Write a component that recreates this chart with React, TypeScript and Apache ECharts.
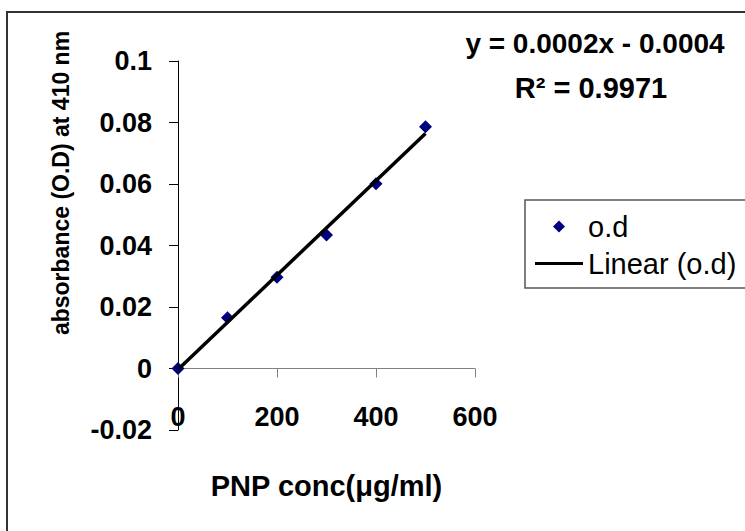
import React, { useEffect, useRef } from "react";
import * as echarts from "echarts";

const concentrations = [0, 100, 200, 300, 400, 500];
const absorbance = [0, 0.0165, 0.0297, 0.0434, 0.0601, 0.0786];
const xTicks = [0, 200, 400, 600];
const yTicks = [-0.02, 0, 0.02, 0.04, 0.06, 0.08, 0.1];
const seriesName = "o.d";
const trendName = "Linear (o.d)";
const equationLines = ["y = 0.0002x - 0.0004", "R\u00b2 = 0.9971"];
const xTitle = "PNP conc(\u03bcg/ml)";
const yTitle = "absorbance (O.D) at 410 nm";

const FONT = "'Liberation Sans', Arial, sans-serif";

const DIAMOND_ICON =
  "path://M0,6L0.01,6L0,6.01Z M48,6L47.99,6L48,6.01Z M24,0L30,6L24,12L18,6Z";
const LINE_ICON =
  "path://M0,0L0.01,0L0,0.01Z M48,12L47.99,12L48,11.99Z M0,4.4L48,4.4L48,7.6L0,7.6Z";

function linearFit(xs: number[], ys: number[]) {
  const n = xs.length;
  const mx = xs.reduce((a, b) => a + b, 0) / n;
  const my = ys.reduce((a, b) => a + b, 0) / n;
  let sxy = 0;
  let sxx = 0;
  for (let i = 0; i < n; i++) {
    sxy += (xs[i] - mx) * (ys[i] - my);
    sxx += (xs[i] - mx) * (xs[i] - mx);
  }
  const m = sxy / sxx;
  return { m, b: my - m * mx };
}

export default function App() {
  const ref = useRef<HTMLDivElement>(null);
  useEffect(() => {
    if (!ref.current) return;
    const chart = echarts.init(ref.current, undefined, { renderer: "svg" });
    const fit = linearFit(concentrations, absorbance);
    const x0 = Math.min(...concentrations);
    const x1 = Math.max(...concentrations);
    const trend = [
      [x0, fit.m * x0 + fit.b],
      [x1, fit.m * x1 + fit.b],
    ];
    chart.setOption({
      animation: false,
      backgroundColor: "#ffffff",
      grid: {
        left: 178,
        top: 61,
        right: 270,
        bottom: 101,
        containLabel: false,
        outerBoundsMode: "none",
      },
      xAxis: {
        type: "value",
        min: xTicks[0],
        max: xTicks[xTicks.length - 1],
        interval: xTicks[1] - xTicks[0],
        splitLine: { show: false },
        axisLine: { onZero: true, lineStyle: { color: "#808080", width: 1 } },
        axisTick: { show: true, inside: false, length: 9, lineStyle: { color: "#808080" } },
        axisLabel: {
          margin: -27,
          color: "#000",
          fontFamily: FONT,
          fontWeight: "bold",
          fontSize: 27,
        },
        name: xTitle,
        nameLocation: "middle",
        nameGap: 41,
        nameMoveOverlap: false,
        nameTextStyle: {
          color: "#000",
          fontFamily: FONT,
          fontWeight: "bold",
          fontSize: 29,
        },
      },
      yAxis: {
        type: "value",
        min: yTicks[0],
        max: yTicks[yTicks.length - 1],
        interval: yTicks[1] - yTicks[0],
        splitLine: { show: false },
        axisLine: { show: true, onZero: false, lineStyle: { color: "#000", width: 1 } },
        axisTick: { show: true, inside: false, length: 9, lineStyle: { color: "#000" } },
        axisLabel: {
          margin: 26,
          color: "#000",
          fontFamily: FONT,
          fontWeight: "bold",
          fontSize: 27,
          formatter: (v: number) => String(Number(v.toFixed(4))),
        },
      },
      legend: {
        orient: "vertical",
        left: 530,
        top: 207,
        padding: 5,
        itemWidth: 48,
        itemHeight: 12,
        itemGap: 8,
        selectedMode: false,
        textStyle: {
          color: "#000",
          fontFamily: FONT,
          fontSize: 29,
          lineHeight: 28,
        },
        data: [
          { name: seriesName, icon: DIAMOND_ICON, itemStyle: { color: "#000080", opacity: 1 } },
          { name: trendName, icon: LINE_ICON, itemStyle: { color: "#000", borderWidth: 0 } },
        ],
      },
      series: [
        {
          name: seriesName,
          type: "scatter",
          symbol: "diamond",
          symbolSize: 13,
          itemStyle: { color: "#000080", opacity: 1 },
          data: concentrations.map((c, i) => [c, absorbance[i]]),
          z: 2,
        },
        {
          name: trendName,
          type: "line",
          symbol: "none",
          lineStyle: { color: "#000", width: 3.5 },
          itemStyle: { color: "#000" },
          data: trend,
          z: 3,
        },
      ],
      graphic: [
        {
          type: "rect",
          shape: { x: 7, y: 12, width: 800, height: 600 },
          style: { fill: "none", stroke: "#333", lineWidth: 2 },
          z: -1,
          silent: true,
        },
        {
          type: "rect",
          shape: { x: 525, y: 200, width: 260, height: 88 },
          style: { fill: "none", stroke: "#555", lineWidth: 1.5 },
          silent: true,
        },
        {
          type: "text",
          x: 595,
          y: 43,
          style: {
            text: equationLines[0],
            fill: "#000",
            font: `bold 28px ${FONT}`,
            textAlign: "center",
            textVerticalAlign: "middle",
          },
        },
        {
          type: "text",
          x: 591,
          y: 88,
          style: {
            text: equationLines[1],
            fill: "#000",
            font: `bold 29px ${FONT}`,
            textAlign: "center",
            textVerticalAlign: "middle",
          },
        },
        {
          type: "text",
          x: 61,
          y: 183,
          rotation: Math.PI / 2,
          style: {
            text: yTitle,
            fill: "#000",
            font: `bold 23px ${FONT}`,
            textAlign: "center",
            textVerticalAlign: "middle",
          },
        },
      ],
    });
    return () => chart.dispose();
  }, []);
  return (
    <div
      ref={ref}
      style={{ position: "fixed", left: 0, top: 0, width: 745, height: 531 }}
    />
  );
}
